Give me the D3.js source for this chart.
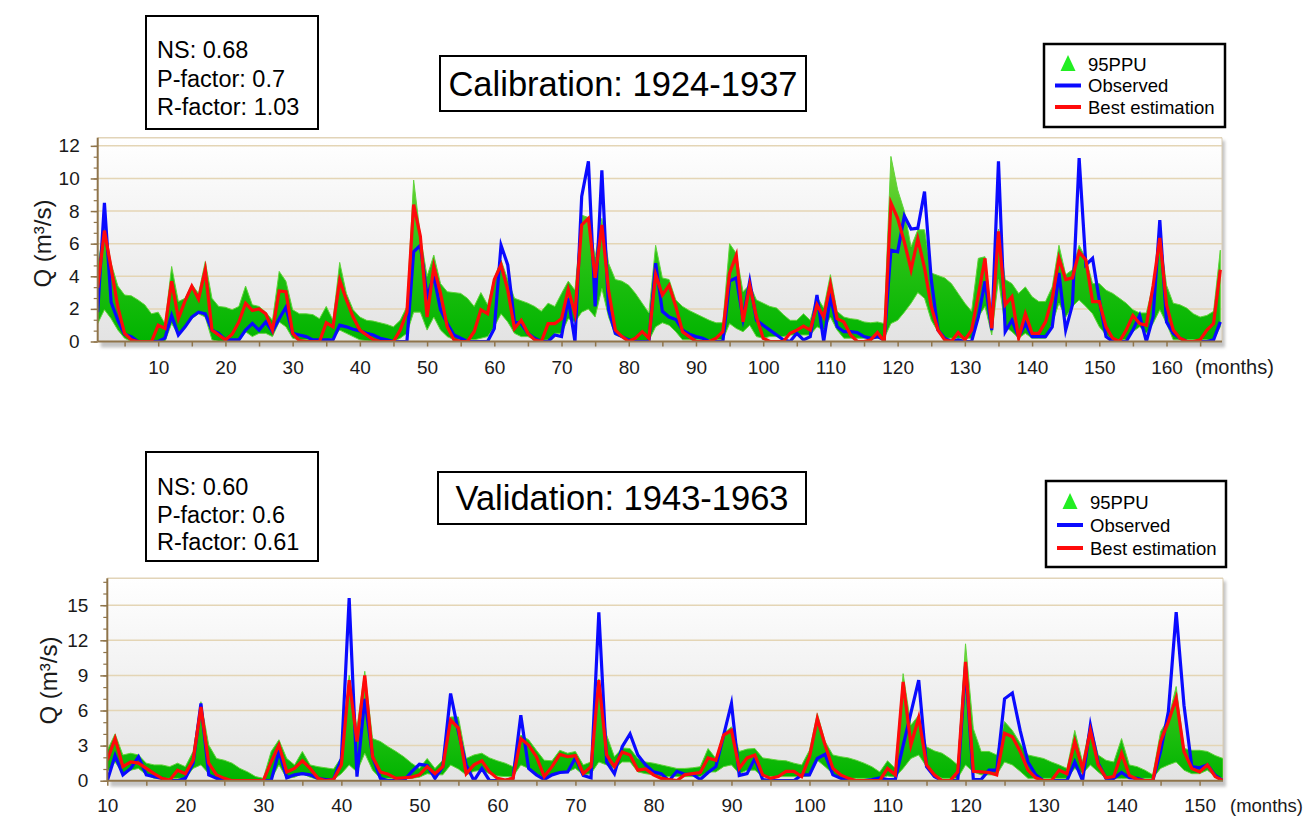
<!DOCTYPE html>
<html>
<head>
<meta charset="utf-8">
<script src="https://cdn.jsdelivr.net/npm/d3@7"></script>
<style>
  html, body { margin: 0; padding: 0; background: #ffffff; }
  svg { display: block; font-family: "Liberation Sans", Arial, Helvetica, sans-serif; }
</style>
</head>
<body>
<svg id="fig" width="1308" height="821"></svg>
<script>
// ---------------- Calibration period (months 1..168) ----------------
const calFirstMonth = 1;
const calObserved = [
  1.8, 8.5, 2.4, 1.3, 0.45, 0.3, 0, 0, 0, 0,
  0.2, 1.6, 0.4, 0.9, 1.5, 1.8, 1.7, 0.7, 0.5, 0.1,
  0.1, 0.1, 0.7, 1.1, 0.7, 1.2, 0.6, 1.4, 2.1, 0.5,
  0.4, 0.3, 0.1, 0.1, 0.1, 0.1, 1.0, 0.9, 0.75, 0.65,
  0.5, 0.4, 0.2, 0.1, 0, 0, 0, 5.5, 5.9, 2.75,
  4.0, 1.95, 1.1, 0.4, 0.2, 0, 0, 0, 0, 0.8,
  5.9, 4.7, 1.2, 1.1, 0.5, 0.2, 0, 0, 0.4, 0.3,
  2.65, 0, 8.9, 11.05, 2.15, 10.5, 1.95, 0.5, 0.3, 0.1,
  0, 0, 0, 4.8, 1.85, 1.5, 1.35, 0.7, 0.45, 0.3,
  0.2, 0, 0, 0, 3.7, 3.9, 1.4, 3.7, 1.3, 1.0,
  0.7, 0.4, 0.1, 0, 0.5, 0.1, 0.3, 2.85, 0, 2.75,
  0.9, 0.6, 0.6, 0.55, 0.3, 0.2, 0.3, 0.1, 5.6, 5.5,
  7.7, 6.9, 6.95, 9.2, 3.8, 0.7, 0.2, 0, 0.1, 0,
  0, 1.5, 3.7, 0.7, 11.05, 0.6, 1.3, 0.3, 1.1, 0.3,
  0.3, 0.3, 0.9, 4.2, 0.7, 2.25, 11.25, 4.7, 5.1, 2.55,
  0.3, 0, 0, 0, 0.7, 1.6, 0, 1.5, 7.45, 1.2,
  0.5, 0.2, 0, 0, 0, 0, 0.1, 1.2
];
const calBest = [
  3.3, 6.8, 4.5, 2.1, 0.5, 0.1, 0, 0, 0, 1.0,
  0.8, 3.7, 1.4, 2.5, 3.4, 2.6, 4.4, 0.7, 0.4, 0.1,
  0.45, 1.2, 2.35, 1.9, 2.0, 1.7, 0.7, 3.1, 3.05, 0.5,
  0.05, 0, 0, 0, 1.15, 0.9, 3.75, 2.55, 1.5, 0.7,
  0.4, 0.1, 0, 0, 0, 0.7, 1.8, 8.4, 6.45, 1.5,
  4.6, 2.95, 0.9, 0.1, 0, 0, 0.6, 1.95, 1.7, 3.8,
  4.7, 3.15, 0.8, 1.3, 0.5, 0.1, 0, 1.1, 1.1, 1.4,
  3.2, 1.7, 7.15, 7.55, 3.9, 7.15, 3.15, 0.7, 0.3, 0,
  0.2, 0.6, 0.2, 4.1, 2.85, 3.45, 2.15, 0.6, 0.3, 0,
  0, 0, 0.2, 0.6, 4.2, 5.3, 1.2, 3.45, 1.5, 0.2,
  0, 0, 0, 0.5, 0.7, 0.95, 0.7, 2.25, 1.5, 3.5,
  1.4, 1.2, 0.4, 0, 0, 0.1, 0.55, 0, 8.5, 7.55,
  6.1, 4.4, 6.3, 4.5, 2.15, 0.7, 0.1, 0, 0.55, 0.1,
  0.7, 2.85, 5.1, 0.8, 6.75, 2.25, 2.75, 0.2, 1.7, 0.5,
  0.5, 1.2, 2.65, 5.1, 3.8, 3.9, 5.5, 5.0, 2.45, 2.45,
  0.9, 0.2, 0, 0.7, 1.6, 1.1, 1.0, 3.4, 6.35, 2.25,
  0.7, 0.2, 0, 0, 0.1, 0.7, 1.1, 4.4
];
const calLower = [
  1.1, 1.95, 1.4, 0.7, 0.2, 0, 0, 0, 0, 0,
  0, 1.1, 0.4, 0.9, 1.4, 1.7, 1.5, 0.1, 0, 0,
  0, 0, 0.6, 0.3, 0.5, 0.5, 0.3, 1.2, 0.9, 0.2,
  0.1, 0.1, 0.1, 0.1, 0.1, 0.2, 0.7, 0.5, 0.3, 0.1,
  0.05, 0, 0, 0, 0, 0.2, 0.5, 1.8, 1.8, 0.7,
  1.5, 0.7, 0.3, 0.1, 0.1, 0.1, 0.1, 0.2, 0.3, 0.9,
  1.7, 1.2, 0.5, 0.3, 0.3, 0.1, 0.05, 0.1, 0.5, 0.5,
  1.4, 1.2, 1.8, 2.0, 1.5, 3.25, 1.5, 0.4, 0.25, 0.1,
  0.05, 0.05, 0.05, 0.9, 1.15, 1.0, 0.6, 0.1, 0.1, 0.1,
  0.1, 0.1, 0.1, 0.1, 1.1, 0.8, 0.6, 1.0, 0.3, 0.2,
  0.3, 0.3, 0.3, 0.4, 0.4, 0.4, 0.4, 0.9, 0.7, 1.5,
  0.7, 0.2, 0.2, 0.2, 0.2, 0.2, 0.2, 0.2, 1.1, 1.3,
  1.8, 2.35, 3.0, 2.65, 1.3, 0.6, 0.2, 0.2, 0.2, 0.2,
  0.2, 1.5, 2.15, 0.4, 3.8, 0.9, 0.6, 0.2, 0.5, 0.2,
  0.2, 0.2, 1.1, 2.35, 1.5, 2.15, 2.55, 2.15, 1.7, 0.9,
  0.4, 0.1, 0.1, 0.1, 0.6, 0.9, 0.5, 1.1, 1.95, 1.1,
  0.1, 0.1, 0.1, 0.1, 0.1, 0.1, 0.1, 0.9
];
const calUpper = [
  4.7, 7.0, 4.8, 3.4, 2.85, 2.8, 2.55, 2.25, 1.7, 1.8,
  1.1, 4.6, 2.45, 2.65, 3.5, 2.95, 4.9, 2.65, 2.15, 2.1,
  1.95, 2.15, 3.4, 2.25, 2.15, 1.8, 1.3, 4.3, 3.7, 1.95,
  1.7, 1.7, 1.65, 1.4, 2.15, 1.3, 4.85, 2.95, 1.95, 1.5,
  1.3, 1.25, 1.15, 1.05, 0.9, 1.3, 2.15, 9.9, 6.5, 4.0,
  5.3, 3.55, 3.05, 3.0, 2.95, 2.65, 2.15, 3.0, 2.25, 3.9,
  5.0, 3.8, 2.65, 2.5, 2.35, 2.15, 1.85, 2.35, 2.15, 2.95,
  3.7, 3.15, 7.75, 7.6, 5.2, 7.55, 4.8, 3.8, 3.7, 3.45,
  2.95, 2.35, 1.75, 5.9, 3.9, 3.8, 2.55, 2.15, 1.9, 1.7,
  1.5, 1.3, 1.15, 1.15, 6.0, 5.4, 3.05, 3.5, 2.55, 2.35,
  2.15, 2.05, 1.65, 1.3, 1.3, 1.7, 1.3, 2.75, 2.05, 4.1,
  1.85, 1.5, 1.4, 1.35, 1.2, 1.15, 1.2, 1.1, 11.35, 9.3,
  8.0, 5.8, 6.85, 6.85, 4.2, 4.05, 3.9, 3.55, 2.95, 2.35,
  1.85, 5.1, 5.2, 1.5, 6.9, 3.8, 3.55, 2.95, 3.35, 2.75,
  2.45, 2.45, 3.35, 5.9, 4.1, 4.4, 5.9, 5.1, 3.55, 3.55,
  3.15, 2.95, 2.65, 2.35, 1.95, 1.75, 1.75, 3.5, 6.65, 3.45,
  2.35, 2.25, 2.05, 1.7, 1.5, 1.6, 1.85, 5.6
];
const calYTicks = [0, 2, 4, 6, 8, 10, 12];
const calXTicks = [10, 20, 30, 40, 50, 60, 70, 80, 90, 100, 110, 120, 130, 140, 150, 160];
const calStats = ["NS: 0.68", "P-factor: 0.7", "R-factor: 1.03"];
const calTitle = "Calibration: 1924-1937";

// ---------------- Validation period (months 10..153) ----------------
const valFirstMonth = 10;
const valObserved = [
  0, 2.15, 0.5, 1.05, 2.05, 0.5, 0.35, 0.2, 0, 0,
  0.2, 1.5, 6.6, 0.5, 0.2, 0, 0, 0, 0, 0,
  0, 0, 2.5, 0.25, 0.5, 0.6, 0.5, 0.2, 0.1, 0.1,
  1.9, 15.6, 0.35, 7.0, 2.05, 0.2, 0, 0, 0, 0.75,
  1.4, 1.3, 0.2, 1.2, 7.45, 4.2, 1.35, 0, 1.05, 0,
  0, 0, 0.2, 5.6, 1.05, 0.5, 0.1, 0.5, 0.7, 0.75,
  1.95, 0.45, 0.25, 14.4, 1.6, 0.6, 2.9, 4.0, 2.2, 1.35,
  0.75, 0.6, 0, 0.8, 0.55, 0.55, 0.1, 0.7, 1.2, 3.9,
  6.6, 0.45, 0.6, 1.9, 0.1, 0, 0, 0, 0, 0.5,
  0.5, 1.9, 2.25, 0.5, 0.2, 0, 0, 0, 0.1, 0.25,
  0.1, 0.1, 3.0, 5.8, 8.6, 1.2, 0.35, 0, 0, 0,
  9.8, 0.1, 0.1, 0.9, 0.9, 7.0, 7.5, 4.3, 1.6, 0.5,
  0, 0, 0, 0, 1.6, 0, 4.75, 1.5, 0.2, 0.2,
  0.7, 0.25, 0.2, 0, 0, 2.5, 5.9, 14.4, 6.45, 1.2,
  1.1, 1.35, 0.45, 0
];
const valBest = [
  1.75, 3.6, 1.2, 1.6, 1.5, 1.05, 0.6, 0.2, 0.05, 0.9,
  0.6, 1.75, 6.3, 1.5, 0.5, 0.2, 0, 0, 0, 0,
  0, 1.6, 3.05, 0.75, 1.05, 1.7, 1.05, 0.2, 0, 0.1,
  1.35, 8.6, 3.35, 9.0, 2.05, 0.75, 0.55, 0.2, 0.25, 0.3,
  0.5, 1.2, 0.6, 1.2, 5.2, 4.5, 0.6, 1.35, 1.7, 0.75,
  0.2, 0.05, 0.2, 3.6, 3.05, 2.05, 0.35, 1.2, 2.25, 2.05,
  2.15, 0.6, 1.2, 8.6, 2.2, 1.2, 2.45, 2.2, 0.9, 1.0,
  0.5, 0.2, 0.1, 0, 0.5, 0.6, 0.7, 1.95, 1.75, 3.9,
  4.3, 1.05, 1.95, 2.2, 0.5, 0.2, 0.35, 0.8, 0.8, 0.35,
  2.05, 5.3, 3.05, 1.05, 0.5, 0.2, 0, 0, 0, 0,
  1.05, 0.5, 8.45, 3.05, 5.4, 1.35, 0.5, 0, 0, 0.75,
  10.15, 0.8, 0.75, 0.7, 0.5, 4.05, 3.75, 2.5, 0.9, 0.25,
  0, 0, 0.9, 0.6, 3.35, 1.0, 4.3, 1.35, 0.25, 0.35,
  2.35, 0.45, 0.1, 0, 0, 3.35, 5.05, 7.05, 2.5, 1.05,
  0.75, 1.35, 0.35, 0
];
const valLower = [
  0.75, 1.6, 0.6, 0.9, 1.05, 0.5, 0.2, 0.2, 0.2, 0.2,
  0.2, 1.05, 1.35, 0.6, 0.1, 0.1, 0.1, 0.1, 0.1, 0.1,
  0.1, 0.1, 1.35, 0.2, 0.3, 0.6, 0.3, 0.1, 0.1, 0.1,
  0.6, 1.35, 0.75, 2.35, 0.9, 0.2, 0.2, 0.2, 0.2, 0.2,
  0.3, 0.6, 0.5, 0.5, 1.35, 1.0, 0.5, 0.8, 0.9, 0.6,
  0.4, 0.35, 0.35, 1.35, 1.05, 0.6, 0.2, 0.5, 0.75, 0.75,
  1.05, 0.5, 0.6, 1.6, 1.35, 1.05, 1.6, 1.6, 0.75, 0.6,
  0.5, 0.35, 0.35, 0.35, 0.35, 0.35, 0.35, 0.75, 0.75, 1.2,
  1.35, 0.6, 0.9, 0.9, 0.35, 0.35, 0.35, 0.35, 0.35, 0.35,
  0.4, 1.75, 1.2, 0.6, 0.2, 0.2, 0.2, 0.2, 0.2, 0.2,
  0.4, 0.3, 1.05, 1.9, 2.2, 1.2, 0.5, 0.2, 0.2, 0.2,
  1.35, 0.75, 0.5, 0.5, 0.5, 1.6, 1.35, 0.8, 0.2, 0.2,
  0.2, 0.2, 0.2, 0.2, 1.05, 0.6, 1.35, 0.75, 0.2, 0.2,
  0.2, 0.2, 0.2, 0.2, 0.2, 1.05, 1.35, 1.6, 0.9, 0.6,
  0.6, 0.9, 0.35, 0.2
];
const valUpper = [
  2.6, 4.0, 2.2, 2.35, 2.2, 1.5, 1.35, 1.35, 1.2, 1.5,
  1.2, 2.5, 6.75, 3.05, 1.9, 1.75, 1.5, 1.05, 0.75, 0.35,
  0.2, 2.5, 3.5, 1.9, 1.35, 2.5, 1.35, 1.2, 1.1, 1.0,
  2.0, 9.0, 4.5, 9.35, 3.6, 3.35, 2.9, 2.5, 2.05, 1.5,
  1.05, 1.9, 1.05, 1.75, 5.45, 5.45, 1.9, 2.2, 2.35, 1.95,
  1.7, 1.5, 1.2, 3.9, 3.5, 2.6, 1.75, 1.7, 2.6, 2.35,
  2.5, 1.35, 1.6, 8.7, 3.9, 2.05, 2.8, 2.75, 1.9, 1.6,
  1.5, 1.35, 1.2, 1.05, 1.05, 1.1, 1.2, 2.75, 1.9, 4.05,
  4.6, 2.5, 2.7, 2.75, 1.95, 1.85, 1.75, 1.7, 1.5, 1.35,
  2.6, 5.75, 3.35, 2.2, 2.05, 1.95, 1.75, 1.5, 1.2, 0.75,
  1.7, 1.05, 9.15, 4.75, 5.6, 2.9, 2.55, 2.35, 1.9, 1.35,
  11.7, 4.45, 2.5, 2.5, 2.2, 5.05, 4.3, 3.2, 2.2, 2.05,
  1.9, 1.6, 1.35, 1.05, 4.3, 1.6, 4.9, 2.2, 1.75, 1.6,
  3.6, 1.35, 1.2, 0.9, 0.5, 4.2, 5.3, 8.05, 2.75, 2.6,
  2.6, 2.5, 2.15, 1.9
];
const valYTicks = [0, 3, 6, 9, 12, 15];
const valXTicks = [10, 20, 30, 40, 50, 60, 70, 80, 90, 100, 110, 120, 130, 140, 150];
const valStats = ["NS: 0.60", "P-factor: 0.6", "R-factor: 0.61"];
const valTitle = "Validation: 1943-1963";

const legendLabels = ["95PPU", "Observed", "Best estimation"];
const yAxisTitle = "Q (m³/s)";
const xUnitLabel = "(months)";

// ---------------- Styling ----------------
const COL_AXIS = "#8f744a";
const COL_GRID = "#e4d5b5";
const COL_OBS = "#0a0aff";
const COL_BEST = "#ff0a0a";
const FONT_TICK = 19;

const svg = d3.select("#fig");
const defs = svg.append("defs");

const bg = defs.append("linearGradient").attr("id", "plotBg")
  .attr("x1", 0).attr("y1", 0).attr("x2", 0).attr("y2", 1);
bg.append("stop").attr("offset", "0%").attr("stop-color", "#ffffff");
bg.append("stop").attr("offset", "100%").attr("stop-color", "#e3e3e3");

const band = defs.append("linearGradient").attr("id", "bandFill")
  .attr("x1", 0).attr("y1", 0).attr("x2", 0).attr("y2", 1);
band.append("stop").attr("offset", "0%").attr("stop-color", "#7dd63c");
band.append("stop").attr("offset", "45%").attr("stop-color", "#30c418");
band.append("stop").attr("offset", "100%").attr("stop-color", "#00b400");

const soft = defs.append("filter").attr("id", "soft")
  .attr("x", "-5%").attr("y", "-5%").attr("width", "110%").attr("height", "110%");
soft.append("feGaussianBlur").attr("stdDeviation", 1.6);

function drawPanel(cfg, idx) {
  const g = svg.append("g").attr("class", "panel-" + idx);
  const x = d3.scaleLinear().domain(cfg.xDomain).range([cfg.left, cfg.xEnd]);
  const y = d3.scaleLinear().domain(cfg.yDomain).range([cfg.bottom, cfg.top]);
  const w = cfg.right - cfg.left;
  const h = cfg.bottom - cfg.top;

  // drop shadow and plot background
  g.append("rect").attr("x", cfg.left + 3).attr("y", cfg.top + 3)
    .attr("width", w).attr("height", h + 3)
    .attr("fill", "#c4c4c4").attr("filter", "url(#soft)");
  g.append("rect").attr("x", cfg.left).attr("y", cfg.top)
    .attr("width", w).attr("height", h).attr("fill", "url(#plotBg)");

  // horizontal grid lines
  g.append("g").selectAll("line")
    .data(cfg.yTicks.filter(v => v > 0))
    .join("line")
    .attr("x1", cfg.left).attr("x2", cfg.right)
    .attr("y1", d => y(d)).attr("y2", d => y(d))
    .attr("stroke", COL_GRID).attr("stroke-width", 1.5);
  // top and right border
  g.append("line").attr("x1", cfg.left).attr("x2", cfg.right)
    .attr("y1", cfg.top).attr("y2", cfg.top)
    .attr("stroke", "#e2d4b8").attr("stroke-width", 1.5);
  g.append("line").attr("x1", cfg.right).attr("x2", cfg.right)
    .attr("y1", cfg.top).attr("y2", cfg.bottom)
    .attr("stroke", "#d9ccb2").attr("stroke-width", 1);

  const clipId = "clip" + idx;
  defs.append("clipPath").attr("id", clipId).append("rect")
    .attr("x", cfg.left).attr("y", cfg.top - 2).attr("width", w).attr("height", h + 2);

  const rows = cfg.observed.map((v, i) => ({
    m: cfg.firstMonth + i,
    obs: v, best: cfg.best[i], lo: cfg.lower[i], hi: cfg.upper[i]
  }));

  const plot = g.append("g").attr("clip-path", `url(#${clipId})`);
  const area = d3.area().x(d => x(d.m)).y0(d => y(d.lo)).y1(d => y(d.hi));
  plot.append("path").datum(rows).attr("d", area)
    .attr("fill", "url(#bandFill)")
    .attr("stroke", "#5fd43a").attr("stroke-width", 1).attr("stroke-linejoin", "round");

  const lineObs = d3.line().x(d => x(d.m)).y(d => y(d.obs));
  const lineBest = d3.line().x(d => x(d.m)).y(d => y(d.best));
  plot.append("path").datum(rows).attr("d", lineObs)
    .attr("fill", "none").attr("stroke", COL_OBS).attr("stroke-width", 3.2)
    .attr("stroke-linejoin", "miter").attr("stroke-miterlimit", 6);
  plot.append("path").datum(rows).attr("d", lineBest)
    .attr("fill", "none").attr("stroke", COL_BEST).attr("stroke-width", 3.2)
    .attr("stroke-linejoin", "miter").attr("stroke-miterlimit", 6);

  // y axis: minor then major ticks
  const minorVals = d3.range(0, cfg.yDomain[1] + 1e-6, cfg.yMinor);
  g.append("g").attr("transform", `translate(${cfg.left},0)`)
    .call(d3.axisLeft(y).tickValues(minorVals).tickSize(4).tickFormat(""))
    .call(s => s.select(".domain").remove())
    .selectAll("line").attr("stroke", COL_AXIS).attr("stroke-width", 1.2);
  const yAx = g.append("g").attr("transform", `translate(${cfg.left},0)`)
    .call(d3.axisLeft(y).tickValues(cfg.yTicks).tickSize(7).tickPadding(cfg.yPad).tickFormat(d3.format("d")));
  yAx.select(".domain").remove();
  yAx.selectAll("line").attr("stroke", COL_AXIS).attr("stroke-width", 1.5);
  yAx.selectAll("text").attr("font-size", FONT_TICK).attr("fill", "#1a1a1a")
    .attr("font-family", "Liberation Sans, Arial, sans-serif");

  // x axis: ticks every 5 months, labels every 10
  const xMinor = d3.range(cfg.xMinorStart, cfg.xDomain[1] + 1e-6, 5);
  g.append("g").attr("transform", `translate(0,${cfg.bottom})`)
    .call(d3.axisBottom(x).tickValues(xMinor).tickSize(5).tickFormat(""))
    .call(s => s.select(".domain").remove())
    .selectAll("line").attr("stroke", COL_AXIS).attr("stroke-width", 1.5);
  const xAx = g.append("g").attr("transform", `translate(0,${cfg.bottom})`)
    .call(d3.axisBottom(x).tickValues(cfg.xTicks).tickSize(0).tickPadding(cfg.xPad).tickFormat(d3.format("d")));
  xAx.select(".domain").remove();
  xAx.selectAll("text").attr("font-size", FONT_TICK).attr("fill", "#1a1a1a")
    .attr("font-family", "Liberation Sans, Arial, sans-serif");

  // axis lines
  g.append("line").attr("x1", cfg.left).attr("x2", cfg.left)
    .attr("y1", cfg.top).attr("y2", cfg.bottom)
    .attr("stroke", COL_AXIS).attr("stroke-width", 2);
  g.append("line").attr("x1", cfg.left).attr("x2", cfg.right)
    .attr("y1", cfg.bottom).attr("y2", cfg.bottom)
    .attr("stroke", COL_AXIS).attr("stroke-width", 2);

  // unit label after the last tick label
  g.append("text").attr("x", cfg.unitX).attr("y", cfg.bottom + cfg.xPad + 0.71 * FONT_TICK)
    .attr("font-size", cfg.unitSize).attr("fill", "#1a1a1a").text(xUnitLabel);

  // y axis title
  g.append("text")
    .attr("transform", `translate(${cfg.titleX},${(cfg.top + cfg.bottom) / 2 + cfg.titleDy}) rotate(-90)`)
    .attr("text-anchor", "middle").attr("dominant-baseline", "central")
    .attr("font-size", 24).attr("fill", "#1a1a1a").text(yAxisTitle);

  // statistics box
  const sb = cfg.statsBox;
  g.append("rect").attr("x", sb.x).attr("y", sb.y).attr("width", sb.w).attr("height", sb.h)
    .attr("fill", "#fff").attr("stroke", "#000").attr("stroke-width", 2);
  g.append("g").selectAll("text").data(cfg.stats).join("text")
    .attr("x", sb.x + 11).attr("y", (d, i) => sb.firstBaseline + i * sb.lineGap)
    .attr("font-size", 23.5).attr("fill", "#000").text(d => d);

  // period title box
  const tb = cfg.titleBox;
  g.append("rect").attr("x", tb.x).attr("y", tb.y).attr("width", tb.w).attr("height", tb.h)
    .attr("fill", "#fff").attr("stroke", "#000").attr("stroke-width", 2);
  g.append("text").attr("x", tb.x + tb.w / 2).attr("y", tb.y + tb.h / 2 + 12)
    .attr("text-anchor", "middle").attr("font-size", 34.5).attr("fill", "#000").text(cfg.title);

  // legend
  const lb = cfg.legendBox;
  g.append("rect").attr("x", lb.x).attr("y", lb.y).attr("width", lb.w).attr("height", lb.h)
    .attr("fill", "#fff").attr("stroke", "#000").attr("stroke-width", 2.5);
  const items = g.append("g").selectAll("g").data(legendLabels).join("g")
    .attr("transform", (d, i) => `translate(${lb.x},${lb.firstRow + i * lb.rowGap})`);
  items.append("text").attr("x", 44).attr("y", 6.5)
    .attr("font-size", 18.5).attr("fill", "#000").text(d => d);
  items.filter((d, i) => i === 0).append("path")
    .attr("d", "M24,-9 L31.5,7 L16.5,7 Z").attr("fill", "#22ee22");
  items.filter((d, i) => i > 0).append("line")
    .attr("x1", 11).attr("x2", 37).attr("y1", 0).attr("y2", 0)
    .attr("stroke", (d, i) => i === 0 ? COL_OBS : COL_BEST).attr("stroke-width", 4);
}

drawPanel({
  firstMonth: calFirstMonth, observed: calObserved, best: calBest, lower: calLower, upper: calUpper,
  xDomain: [1, 168], yDomain: [0, 12.5], yTicks: calYTicks, yMinor: 2 / 3,
  xTicks: calXTicks, xMinorStart: 5,
  left: 97.7, xEnd: 1220.3, right: 1222, top: 137.7, bottom: 341.5,
  yPad: 11, xPad: 19, unitX: 1195, unitSize: 20, titleX: 42, titleDy: 4,
  stats: calStats, statsBox: { x: 146, y: 16, w: 172, h: 113, firstBaseline: 58, lineGap: 28.5 },
  title: calTitle, titleBox: { x: 440, y: 56, w: 366, h: 55 },
  legendBox: { x: 1044, y: 44, w: 181, h: 83, firstRow: 64, rowGap: 21.5 }
}, 0);

drawPanel({
  firstMonth: valFirstMonth, observed: valObserved, best: valBest, lower: valLower, upper: valUpper,
  xDomain: [10, 153], yDomain: [0, 17.3], yTicks: valYTicks, yMinor: 1,
  xTicks: valXTicks, xMinorStart: 10,
  left: 107.3, xEnd: 1223, right: 1223, top: 578.3, bottom: 780.7,
  yPad: 12, xPad: 18, unitX: 1230, unitSize: 18.5, titleX: 48, titleDy: 1,
  stats: valStats, statsBox: { x: 146, y: 452, w: 172, h: 109, firstBaseline: 495, lineGap: 27.5 },
  title: valTitle, titleBox: { x: 438, y: 472, w: 368, h: 52 },
  legendBox: { x: 1046, y: 481, w: 180, h: 86, firstRow: 502, rowGap: 23 }
}, 1);
</script>
</body>
</html>
